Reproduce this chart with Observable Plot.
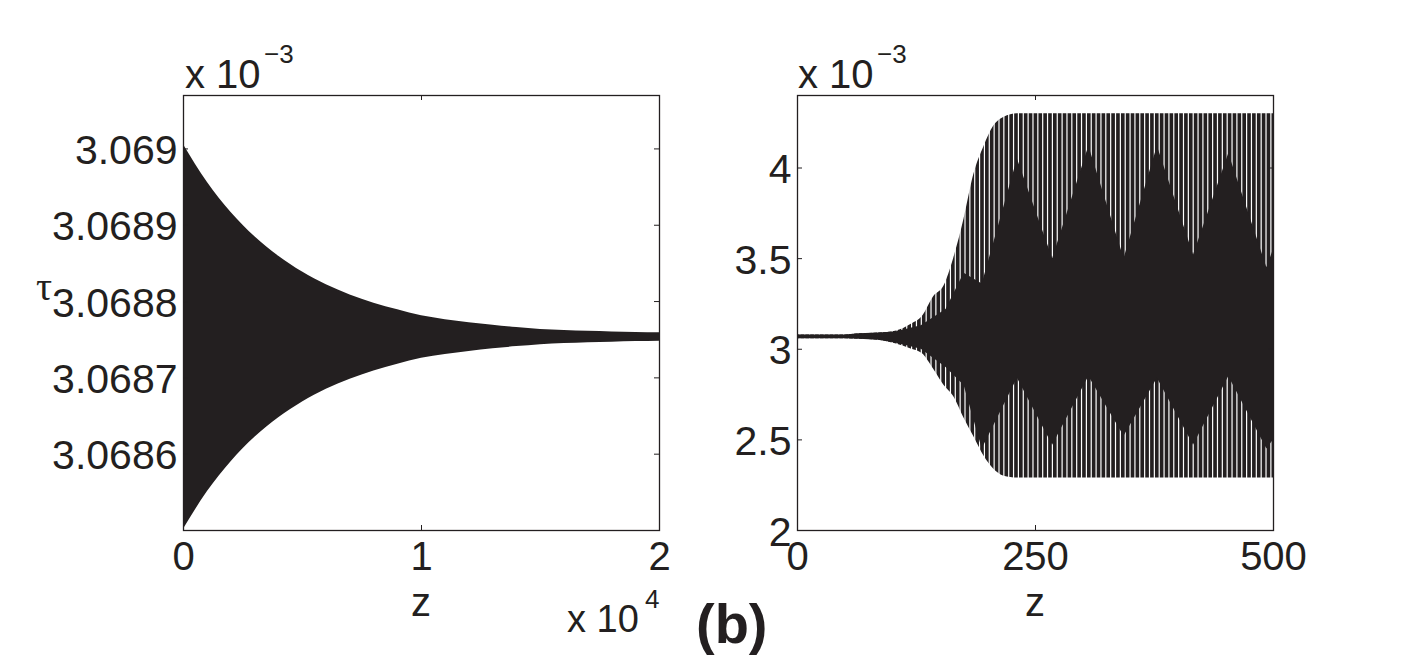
<!DOCTYPE html>
<html>
<head>
<meta charset="utf-8">
<script src="https://cdn.jsdelivr.net/npm/d3@7"></script>
<script src="https://cdn.jsdelivr.net/npm/@observablehq/plot@0.6"></script>
<style>
  html, body { margin: 0; padding: 0; background: #ffffff; }
  #page { position: relative; width: 1424px; height: 660px; overflow: hidden; background: #ffffff; }
  .panel { position: absolute; top: 0; }
  #overlay { position: absolute; left: 0; top: 0; pointer-events: none; }
</style>
</head>
<body>
<div id="page">
  <div id="left" class="panel" style="left:0px"></div>
  <div id="right" class="panel" style="left:712px"></div>
</div>
<script>
// ---------- data ----------
// Left panel: tau (x 10^-3) against z (x 10^4), envelope of the dense oscillation
const leftZ = [0, 0.1, 0.2, 0.3, 0.4, 0.5, 0.6, 0.7, 0.8, 0.9, 1.0,
               1.1, 1.2, 1.3, 1.4, 1.5, 1.6, 1.7, 1.8, 1.9, 2.0];
const leftUpper = [3.0690055, 3.0689563, 3.0689168, 3.0688849, 3.0688593, 3.0688386,
                   3.0688220, 3.0688087, 3.0687979, 3.0687892, 3.0687813, 3.0687763,
                   3.0687723, 3.0687690, 3.0687660, 3.0687635, 3.0687621, 3.0687610,
                   3.0687602, 3.0687595, 3.0687590];
const leftLower = [3.0685015, 3.0685507, 3.0685902, 3.0686221, 3.0686477, 3.0686684,
                   3.0686850, 3.0686983, 3.0687091, 3.0687178, 3.0687257, 3.0687307,
                   3.0687347, 3.0687380, 3.0687410, 3.0687435, 3.0687449, 3.0687460,
                   3.0687468, 3.0687475, 3.0687480];
const leftXTicks = [0, 1, 2];
const leftXLabels = ["0", "1", "2"];
const leftYTicks = [3.0686, 3.0687, 3.0688, 3.0689, 3.069];
const leftYLabels = ["3.0686", "3.0687", "3.0688", "3.0689", "3.069"];

// Right panel: tau (x 10^-3) against z, outer envelope of the oscillation
const rightEnvZ     = [0, 50, 65, 85, 103, 120, 131, 143, 154, 164, 175, 185, 196, 206, 217, 231, 500];
const rightEnvUpper = [3.078, 3.078, 3.085, 3.09, 3.10, 3.14, 3.18, 3.29, 3.35, 3.50, 3.72, 3.96, 4.12, 4.23, 4.28, 4.30, 4.30];
const rightEnvLower = [3.058, 3.058, 3.055, 3.05, 3.03, 3.00, 2.976, 2.89, 2.80, 2.74, 2.62, 2.52, 2.41, 2.34, 2.30, 2.29, 2.29];
// solid core of the trace (where strokes merge), showing the slow beating
const rightCoreZ     = [0, 50, 65, 85, 103, 130, 156, 175, 194, 231, 268, 306, 343, 378, 416, 453, 493, 500];
const rightCoreUpper = [3.078, 3.078, 3.085, 3.09, 3.095, 3.13, 3.22, 3.42, 3.36, 4.05, 3.50, 4.12, 3.50, 4.12, 3.52, 4.08, 3.45, 3.55];
const rightCoreLower = [3.058, 3.058, 3.055, 3.05, 3.035, 3.00, 2.90, 2.80, 2.45, 2.84, 2.47, 2.85, 2.52, 2.84, 2.47, 2.85, 2.45, 2.50];
// spacing of the fast oscillation (gaps between strokes)
const rightPeriod = 5.1;
const rightGapStart = 2.55;
const rightXTicks = [0, 250, 500];
const rightXLabels = ["0", "250", "500"];
const rightYTicks = [2, 2.5, 3, 3.5, 4];
const rightYLabels = ["2", "2.5", "3", "3.5", "4"];

// ---------- drawing ----------
const INK = "#231f20";
const FONT = "'Liberation Sans', Arial, Helvetica, sans-serif";
const H = 660, MT = 95, MB = 130;

function panel({width, marginLeft, marginRight, xDomain, yDomain, xTicks, xLabels, yTicks, yLabels, dataMarks}) {
  const fw = width - marginLeft - marginRight;
  const fh = H - MT - MB;
  return Plot.plot({
    width, height: H, marginLeft, marginRight, marginTop: MT, marginBottom: MB,
    x: {domain: xDomain, axis: null},
    y: {domain: yDomain, axis: null},
    style: {background: "transparent", color: INK, fontFamily: FONT, fontSize: "41px", overflow: "visible"},
    marks: [
      ...dataMarks,
      Plot.frame({stroke: INK, strokeWidth: 1.3}),
      Plot.tickY(yTicks, {y: d => d, insetRight: fw - 5, stroke: INK, strokeWidth: 1}),
      Plot.tickY(yTicks, {y: d => d, insetLeft: fw - 5, stroke: INK, strokeWidth: 1}),
      Plot.tickX(xTicks, {x: d => d, insetTop: fh - 5, stroke: INK, strokeWidth: 1}),
      Plot.tickX(xTicks, {x: d => d, insetBottom: fh - 5, stroke: INK, strokeWidth: 1}),
      Plot.text(yTicks, {y: d => d, text: d => yLabels[yTicks.indexOf(d)], frameAnchor: "left",
        textAnchor: "end", lineAnchor: "middle", dx: -6, dy: 2, fill: INK, fontSize: 41}),
      Plot.text(xTicks, {x: d => d, text: d => xLabels[xTicks.indexOf(d)], frameAnchor: "bottom",
        textAnchor: "middle", lineAnchor: "top", dy: 11, fill: INK, fontSize: 40})
    ]
  });
}

const leftTable = leftZ.map((z, i) => ({z, lo: leftLower[i], hi: leftUpper[i]}));
const envTable = rightEnvZ.map((z, i) => ({z, lo: rightEnvLower[i], hi: rightEnvUpper[i]}));
const coreTable = rightCoreZ.map((z, i) => ({z, lo: rightCoreLower[i], hi: rightCoreUpper[i]}));
const gapZ = d3.range(rightGapStart, 500, rightPeriod);

document.getElementById("left").appendChild(panel({
  width: 712, marginLeft: 183, marginRight: 53,
  xDomain: [0, 2], yDomain: [3.0685, 3.06907],
  xTicks: leftXTicks, xLabels: leftXLabels, yTicks: leftYTicks, yLabels: leftYLabels,
  dataMarks: [
    Plot.areaY(leftTable, {x: "z", y1: "lo", y2: "hi", fill: INK, curve: "monotone-x"})
  ]
}));

document.getElementById("right").appendChild(panel({
  width: 712, marginLeft: 85, marginRight: 151,
  xDomain: [0, 500], yDomain: [2, 4.4],
  xTicks: rightXTicks, xLabels: rightXLabels, yTicks: rightYTicks, yLabels: rightYLabels,
  dataMarks: [
    Plot.areaY(envTable, {x: "z", y1: "lo", y2: "hi", fill: INK, curve: "monotone-x"}),
    Plot.ruleX(gapZ, {x: d => d, stroke: "#ffffff", strokeWidth: 1.2}),
    Plot.areaY(coreTable, {x: "z", y1: "lo", y2: "hi", fill: INK, curve: "linear"})
  ]
}));

// ---------- annotation text ----------
const notes = [
  {x: 185, y: 88, s: 40, t: "x 10"},
  {x: 264, y: 63, s: 26, t: "\u22123"},
  {x: 798, y: 88, s: 40, t: "x 10"},
  {x: 877, y: 63, s: 26, t: "\u22123"},
  {x: 421, y: 616, s: 40, t: "z", a: "middle"},
  {x: 1035, y: 616, s: 40, t: "z", a: "middle"},
  {x: 567, y: 632, s: 38, t: "x 10"},
  {x: 645, y: 608, s: 26, t: "4"},
  {x: 696, y: 643, s: 56, t: "(b)", w: "bold"},
  {x: 36, y: 300, s: 40, t: "\u03c4", f: "'Liberation Serif', 'DejaVu Serif', serif"}
];
const svg = d3.select("#page").append("svg").attr("id", "overlay")
  .attr("width", 1424).attr("height", 660);
svg.selectAll("text").data(notes).join("text")
  .attr("x", d => d.x).attr("y", d => d.y)
  .attr("font-size", d => d.s)
  .attr("font-family", d => d.f || FONT)
  .attr("font-weight", d => d.w || "normal")
  .attr("text-anchor", d => d.a || "start")
  .attr("fill", INK)
  .text(d => d.t);
</script>
</body>
</html>
